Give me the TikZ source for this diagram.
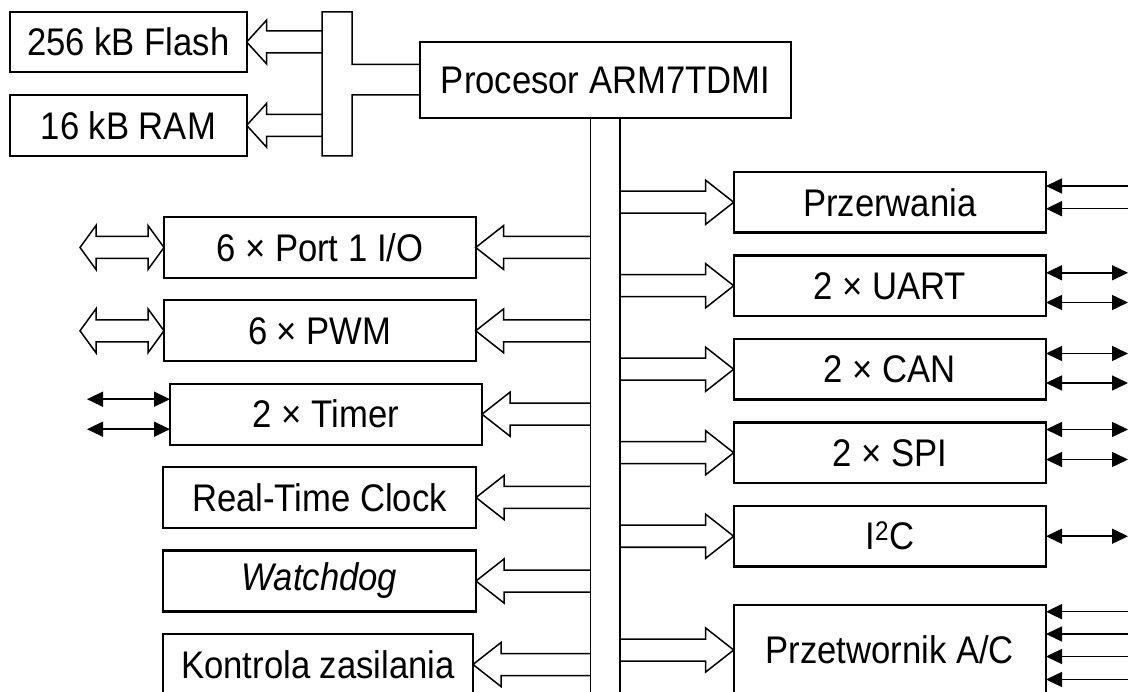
\documentclass[tikz,border=0pt]{standalone}
\usepackage{fontspec}
\setmainfont{Liberation Sans}[FakeStretch=0.9]
\usetikzlibrary{calc,arrows.meta}
\tikzset{
  blk/.style={draw, line width=2.1pt, anchor=north west, inner sep=0pt, outer sep=0pt,
              font=\fontsize{38.5}{46}\selectfont},
  conn/.style={line width=1.5pt, line join=miter},
  sig/.style={line width=1.5pt},
  into/.style={-{Triangle[length=16pt,width=15pt]}},
  both/.style={{Triangle[length=16pt,width=15pt]}-{Triangle[length=16pt,width=15pt]}},
}
% hollow bus arrow: #1 tip anchor, #2 bus coordinate, #3 signed head length
\newcommand\harrow[3]{\draw[conn] ($(#2 |- #1)+(0,-11)$) -- ($(#1)+(#3,-11)$) -- ($(#1)+(#3,-22)$) -- (#1) -- ($(#1)+(#3,22)$) -- ($(#1)+(#3,11)$) -- ($(#2 |- #1)+(0,11)$);}
% double hollow arrow ending at the west side of node #1
\newcommand\dharrow[1]{\draw[conn] (#1.west) -- ++(-16,-22) -- ++(0,11) -- ++(-52,0) -- ++(0,-11) -- ++(-16,22) -- ++(16,22) -- ++(0,-11) -- ++(52,0) -- ++(0,11) -- cycle;}
\begin{document}
\begin{tikzpicture}[x=1pt,y=-1pt]
\useasboundingbox (0,0) rectangle (1128,692);
\fill[white] (0,0) rectangle (1128,692);
\clip (0,0) rectangle (1128,692);

% memory
\node[blk, minimum width=236.7pt, minimum height=60pt] (flash) at (10,12) {256 kB Flash};
\node[blk, minimum width=236.7pt, minimum height=60.7pt] (ram) at (10,95) {16 kB RAM};
% processor
\node[blk, minimum width=371pt, minimum height=76pt] (proc) at (420,42) {Procesor ARM7TDMI};

% memory bus
\coordinate (mbL) at (322,84);
\draw[conn] ($(proc.west)+(0,-15.5)$) -- (352,64.4) -- (352,12) -- (322,12) -- (322,156) -- (352,156) -- (352,95) -- ($(proc.west)+(0,15)$);
\harrow{flash.east}{mbL}{20}
\harrow{ram.east}{mbL}{20}

% main bus
\coordinate (busL) at ($(proc.south)+(-15,0)$);
\coordinate (busR) at ($(proc.south)+(14.5,0)$);
\coordinate (bottom) at (0,700);
\draw[conn] (busL) -- (busL |- bottom);
\draw[conn] (busR) -- (busR |- bottom);

% left peripherals
\node[blk, minimum width=311.7pt, minimum height=61pt] (port) at (164,217) {6 × Port 1 I/O};
\node[blk, minimum width=311.7pt, minimum height=61pt] (pwm) at (164,300.3) {6 × PWM};
\node[blk, minimum width=312pt, minimum height=61pt] (timer) at (170,383.7) {2 × Timer};
\node[blk, minimum width=313pt, minimum height=61pt] (rtc) at (163,467) {Real-Time Clock};
\node[blk, minimum width=313pt, minimum height=61pt] (wdog) at (163,550.5) {\itshape Watchdog};
\node[blk, minimum width=310pt, minimum height=61pt] (pwr) at (163,634) {Kontrola zasilania};

\harrow{port.east}{busL}{28}
\harrow{pwm.east}{busL}{28}
\harrow{timer.east}{busL}{28}
\harrow{rtc.east}{busL}{28}
\harrow{wdog.east}{busL}{28}
\harrow{pwr.east}{busL}{28}

\dharrow{port}
\dharrow{pwm}
\draw[sig,both] ($(timer.west)+(-83,-15)$) -- ($(timer.west)+(0,-15)$);
\draw[sig,both] ($(timer.west)+(-83,15)$) -- ($(timer.west)+(0,15)$);

% right peripherals
\node[blk, minimum width=312.3pt, minimum height=60.5pt] (irq) at (733.7,172) {Przerwania};
\node[blk, minimum width=312.3pt, minimum height=60.5pt] (uart) at (733.7,255.5) {2 × UART};
\node[blk, minimum width=312.3pt, minimum height=60.5pt] (can) at (733.7,339) {2 × CAN};
\node[blk, minimum width=312.3pt, minimum height=60.5pt] (spi) at (733.7,422.5) {2 × SPI};
\node[blk, minimum width=312.3pt, minimum height=60.5pt] (iic) at (733.7,506) {I\textsuperscript{2}C};
\node[blk, minimum width=312.3pt, minimum height=90pt] (adc) at (733.7,605) {Przetwornik A/C};

\harrow{irq.west}{busR}{-28}
\harrow{uart.west}{busR}{-28}
\harrow{can.west}{busR}{-28}
\harrow{spi.west}{busR}{-28}
\harrow{iic.west}{busR}{-28}
\harrow{adc.west}{busR}{-28}

\draw[sig,into] ($(irq.north east)+(82,14)$) -- ($(irq.north east)+(0,14)$);
\draw[sig,into] ($(irq.north east)+(82,36.7)$) -- ($(irq.north east)+(0,36.7)$);
\draw[sig,both] ($(uart.north east)+(0,17.3)$) -- ++(82,0);
\draw[sig,both] ($(uart.north east)+(0,47)$) -- ++(82,0);
\draw[sig,both] ($(can.north east)+(0,14.5)$) -- ++(82,0);
\draw[sig,both] ($(can.north east)+(0,44)$) -- ++(82,0);
\draw[sig,both] ($(spi.north east)+(0,7)$) -- ++(82,0);
\draw[sig,both] ($(spi.north east)+(0,37)$) -- ++(82,0);
\draw[sig,both] (iic.east) -- ++(82,0);
\draw[sig,into] ($(adc.north east)+(82,6.7)$) -- ($(adc.north east)+(0,6.7)$);
\draw[sig,into] ($(adc.north east)+(82,29)$) -- ($(adc.north east)+(0,29)$);
\draw[sig,into] ($(adc.north east)+(82,51.5)$) -- ($(adc.north east)+(0,51.5)$);
\draw[sig,into] ($(adc.north east)+(82,74.5)$) -- ($(adc.north east)+(0,74.5)$);
\end{tikzpicture}
\end{document}
